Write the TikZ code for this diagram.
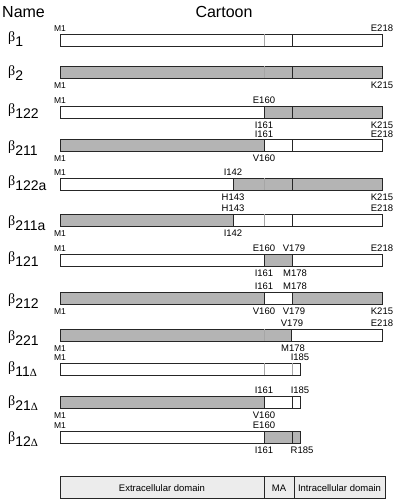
\documentclass[tikz,border=0pt]{standalone}
\usepackage{fontspec}
\setmainfont{Liberation Sans}
\newfontfamily\grk{Liberation Serif}
\definecolor{barfill}{RGB}{180,180,180}
\definecolor{legfill}{RGB}{236,236,236}
\tikzset{
  head/.style={font=\fontsize{16}{16}\selectfont, inner sep=0pt},
  bname/.style={font=\fontsize{14}{14}\selectfont, anchor=base west, inner sep=0pt},
  res/.style={font=\fontsize{9.5}{9.5}\selectfont, inner sep=0pt},
  mone/.style={font=\fontsize{8.5}{8.5}\selectfont, inner sep=0pt},
  bar/.style={draw=black!85, line width=0.6pt},
  cut/.style={draw=black!85, line width=0.6pt},
  faint/.style={draw=gray!70, line width=0.5pt},
  legtext/.style={font=\fontsize{9.5}{9.5}\selectfont, inner sep=0pt},
}
\newcommand{\bsub}[1]{{\grk β}\raisebox{-5pt}{#1}}
\newcommand{\dlt}{{\grk\fontsize{11}{11}\selectfont Δ}}
\begin{document}
\begin{tikzpicture}[x=1pt,y=-1pt]
\useasboundingbox (0,0) rectangle (394,499);
% headings
\node[head, anchor=base west] (name) at (2,17) {Name};
\node[head, anchor=base] (cartoon) at (224,17) {Cartoon};

% beta 1
\node[bname] (n1) at (8,41) {\bsub{1}};
\fill[white] (60,34) rectangle (382,46);
\draw[bar] (60,34) rectangle (382,46);
\draw[faint] (264,34) -- (264,46);
\draw[cut] (292,34) -- (292,46);
\node[mone,above] (r1a) at (60,32) {M1};
\node[res,above] (r1b) at (382,32) {E218};

% beta 2
\node[bname] (n2) at (8,75) {\bsub{2}};
\fill[barfill] (60,66) rectangle (382,78);
\draw[bar] (60,66) rectangle (382,78);
\draw[faint] (264,66) -- (264,78);
\draw[cut] (292,66) -- (292,78);
\node[mone,below] (r2a) at (60,82) {M1};
\node[res,below] (r2b) at (382,82) {K215};

% beta 122
\node[bname] (n3) at (8,113) {\bsub{122}};
\fill[white] (60,106) rectangle (264,118);
\fill[barfill] (264,106) rectangle (382,118);
\draw[bar] (60,106) rectangle (382,118);
\draw[cut] (264,106) -- (264,118);
\draw[cut] (292,106) -- (292,118);
\node[mone,above] (r3a) at (60,104) {M1};
\node[res,above] (r3b) at (264,104) {E160};
\node[res,below] (r3c) at (264,121.5) {I161};
\node[res,below] (r3d) at (382,121.5) {K215};

% beta 211
\node[bname] (n4) at (8,150) {\bsub{211}};
\fill[barfill] (60,139) rectangle (264,151);
\fill[white] (264,139) rectangle (382,151);
\draw[bar] (60,139) rectangle (382,151);
\draw[cut] (264,139) -- (264,151);
\draw[cut] (292,139) -- (292,151);
\node[res,above] (r4a) at (264,137.5) {I161};
\node[res,above] (r4b) at (382,137.5) {E218};
\node[mone,below] (r4c) at (60,155) {M1};
\node[res,below] (r4d) at (264,155) {V160};

% beta 122a
\node[bname] (n5) at (8,185) {\bsub{122a}};
\fill[white] (60,178) rectangle (233,190);
\fill[barfill] (233,178) rectangle (382,190);
\draw[bar] (60,178) rectangle (382,190);
\draw[cut] (233,178) -- (233,190);
\draw[faint] (264,178) -- (264,190);
\draw[cut] (292,178) -- (292,190);
\node[mone,above] (r5a) at (60,176) {M1};
\node[res,above] (r5b) at (233,176) {I142};
\node[res,below] (r5c) at (233,194) {H143};
\node[res,below] (r5d) at (382,194) {K215};

% beta 211a
\node[bname] (n6) at (8,225) {\bsub{211a}};
\fill[barfill] (60,214) rectangle (233,226);
\fill[white] (233,214) rectangle (382,226);
\draw[bar] (60,214) rectangle (382,226);
\draw[cut] (233,214) -- (233,226);
\draw[faint] (264,214) -- (264,226);
\draw[cut] (292,214) -- (292,226);
\node[res,above] (r6a) at (233,212) {H143};
\node[res,above] (r6b) at (382,212) {E218};
\node[mone,below] (r6c) at (60,230) {M1};
\node[res,below] (r6d) at (233,230) {I142};

% beta 121
\node[bname] (n7) at (8,261) {\bsub{121}};
\fill[white] (60,254) rectangle (382,266);
\fill[barfill] (264,254) rectangle (292,266);
\draw[bar] (60,254) rectangle (382,266);
\draw[cut] (264,254) -- (264,266);
\draw[cut] (292,254) -- (292,266);
\node[mone,above] (r7a) at (60,252) {M1};
\node[res,above] (r7b) at (264,252) {E160};
\node[res,above] (r7c) at (294,252) {V179};
\node[res,above] (r7d) at (382,252) {E218};
\node[res,below] (r7e) at (264,270) {I161};
\node[res,below] (r7f) at (295,270) {M178};

% beta 212
\node[bname] (n8) at (8,303) {\bsub{212}};
\fill[barfill] (60,292) rectangle (382,304);
\fill[white] (264,292) rectangle (292,304);
\draw[bar] (60,292) rectangle (382,304);
\draw[cut] (264,292) -- (264,304);
\draw[cut] (292,292) -- (292,304);
\node[res,above] (r8a) at (264,290) {I161};
\node[res,above] (r8b) at (295,290) {M178};
\node[mone,below] (r8c) at (60,308) {M1};
\node[res,below] (r8d) at (264,308) {V160};
\node[res,below] (r8e) at (294,308) {V179};
\node[res,below] (r8f) at (382,308) {K215};

% beta 221
\node[bname] (n9) at (8,340) {\bsub{221}};
\fill[barfill] (60,329) rectangle (291,341);
\fill[white] (291,329) rectangle (382,341);
\draw[bar] (60,329) rectangle (382,341);
\draw[faint] (264,329) -- (264,341);
\draw[cut] (291,329) -- (291,341);
\node[res,above] (r9a) at (292,327) {V179};
\node[res,above] (r9b) at (382,327) {E218};
\node[mone,below] (r9c) at (60,345) {M1};
\node[res,below] (r9d) at (293,345) {M178};

% beta 11 delta
\node[bname] (n10) at (8,371) {\bsub{11\dlt}};
\fill[white] (60,363) rectangle (300,375);
\draw[bar] (60,363) rectangle (300,375);
\draw[faint] (264,363) -- (264,375);
\draw[faint] (292,363) -- (292,375);
\node[mone,above] (r10a) at (60,361) {M1};
\node[res,above] (r10b) at (300,361) {I185};

% beta 21 delta
\node[bname] (n11) at (8,405) {\bsub{21\dlt}};
\fill[barfill] (60,396) rectangle (264,408);
\fill[white] (264,396) rectangle (300,408);
\draw[bar] (60,396) rectangle (300,408);
\draw[cut] (264,396) -- (264,408);
\draw[cut] (292,396) -- (292,408);
\node[res,above] (r11a) at (264,394) {I161};
\node[res,above] (r11b) at (300,394) {I185};
\node[mone,below] (r11c) at (60,412) {M1};
\node[res,below] (r11d) at (264,412) {V160};

% beta 12 delta
\node[bname] (n12) at (8,441) {\bsub{12\dlt}};
\fill[white] (60,431) rectangle (264,443);
\fill[barfill] (264,431) rectangle (300,443);
\draw[bar] (60,431) rectangle (300,443);
\draw[cut] (264,431) -- (264,443);
\draw[cut] (292,431) -- (292,443);
\node[mone,above] (r12a) at (60,429) {M1};
\node[res,above] (r12b) at (264,429) {E160};
\node[res,below] (r12c) at (264,447) {I161};
\node[res,below] (r12d) at (302,447) {R185};

% domain legend
\draw[bar,fill=legfill] (60,476) rectangle (385,498.5);
\draw[cut] (264,476) -- (264,498.5);
\draw[cut] (294,476) -- (294,498.5);
\node[legtext] (extra) at (162,488) {Extracellular domain};
\node[legtext] (ma) at (279,488) {MA};
\node[legtext] (intra) at (339.5,488) {Intracellular domain};
\end{tikzpicture}
\end{document}
